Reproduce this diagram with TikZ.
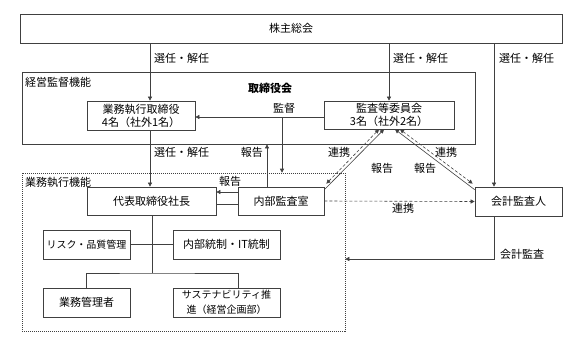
\documentclass[tikz,border=0pt]{standalone}
\usepackage{fontspec}
\setmainfont{Noto Sans CJK JP}
\usetikzlibrary{arrows.meta, shadows}
\definecolor{lngray}{RGB}{64,64,64}
\newcommand{\orgfont}{\fontsize{11}{13}\selectfont}
\newcommand{\smallorgfont}{\fontsize{10}{15}\selectfont}
\tikzset{
  orgbox/.style={draw=lngray, line width=0.7pt, fill=white, inner sep=1pt, align=center, font=\orgfont},
  framebox/.style={draw=lngray, line width=0.7pt, inner sep=0pt},
  dotframe/.style={draw=lngray, line width=0.6pt, dash pattern=on 1pt off 1pt, inner sep=0pt},
  tag/.style={font=\orgfont, inner sep=1pt},
  link/.style={draw=lngray, line width=0.6pt},
  arr/.style={link, -{Triangle[length=4pt,width=4pt]}},
  coop/.style={link, dash pattern=on 3pt off 2pt},
  shade/.style={drop shadow={shadow xshift=1pt, shadow yshift=-1pt, opacity=0.6}}
}
\begin{document}
\begin{tikzpicture}[x=1pt, y=-1pt]
  \useasboundingbox (0,0) rectangle (584,346);

  % Frames
  \node[framebox, minimum width=453pt, minimum height=72pt] (supv) at (248.5,108) {};
  \node[tag, anchor=west] (supvlbl) at (24,82) {経営監督機能};
  \node[dotframe, minimum width=323pt, minimum height=158pt] (execf) at (183.5,252) {};
  \node[tag, anchor=west] (execflbl) at (24,182) {業務執行機能};
  \node[tag, font=\orgfont\bfseries] (board) at (270,88) {取締役会};

  % Boxes
  \node[orgbox, minimum width=542pt, minimum height=29pt] (agm) at (291,28.5) {株主総会};
  \node[orgbox, minimum width=108pt, minimum height=29pt] (exec) at (141,115.5) {業務執行取締役\\4名（社外1名）};
  \node[orgbox, minimum width=130pt, minimum height=28pt] (aud) at (389,115) {監査等委員会\\3名（社外2名）};
  \node[orgbox, minimum width=129pt, minimum height=28pt] (ceo) at (151.5,201) {代表取締役社長};
  \node[orgbox, minimum width=86pt, minimum height=28pt] (ia) at (281,201) {内部監査室};
  \node[orgbox, minimum width=87pt, minimum height=29pt] (ext) at (518.5,201.5) {会計監査人};
  \node[orgbox, shade, minimum width=87pt, minimum height=29pt, font=\smallorgfont] (risk) at (86.5,244.5) {リスク・品質管理};
  \node[orgbox, shade, minimum width=107pt, minimum height=29pt] (ic) at (226.5,244.5) {内部統制・IT統制};
  \node[orgbox, minimum width=87pt, minimum height=29pt] (mgr) at (86.5,302.5) {業務管理者};
  \node[orgbox, minimum width=107pt, minimum height=29pt, font=\smallorgfont] (sus) at (226.5,302.5) {サステナビリティ推\\進（経営企画部）};

  % Appointment from the shareholders' meeting
  \coordinate (selL) at (150,0);
  \coordinate (selR) at (494,0);
  \draw[arr] (agm.south -| selL) -- (exec.north -| selL);
  \node[tag, anchor=west] (sel1) at (153,58) {選任・解任};
  \draw[arr] (agm.south -| aud.north) -- (aud.north);
  \node[tag, anchor=west] (sel2) at (392,58) {選任・解任};
  \draw[arr] (agm.south -| selR) -- (ext.north -| selR);
  \node[tag, anchor=west] (sel3) at (498,58) {選任・解任};
  \draw[arr] (exec.south -| selL) -- (ceo.north -| selL);
  \node[tag, anchor=west] (sel4) at (153,152) {選任・解任};

  % Supervision
  \draw[arr] ([yshift=-2pt]aud.west) -- ([yshift=-2pt]aud.west -| exec.east);
  \node[tag] (supvtag) at (284,108) {監督};
  \coordinate (supvdrop) at (282,117);
  \draw[arr] (supvdrop) -- (supvdrop |- execf.north);

  % Reports from internal audit
  \draw[arr] ([yshift=9pt]ia.west) -- ([yshift=9pt]ia.west -| ceo.east);
  \draw[link] ([yshift=-3pt]ia.west) -- ([yshift=-3pt]ia.west -| ceo.east);
  \node[tag] (rep1) at (230,181) {報告};
  \coordinate (repup) at (267,0);
  \draw[arr] (ia.north -| repup) -- (supv.south -| repup);
  \node[tag, anchor=east] (rep2) at (264,152) {報告};

  % Audit triangle
  \draw[arr] ([yshift=-3pt]ia.north east) -- ([xshift=-5pt]aud.south);
  \draw[coop, {Triangle[length=4pt,width=4pt]}-{Triangle[length=4pt,width=4pt]}] ([shift={(2pt,3pt)}]ia.north east) -- ([xshift=-10pt]aud.south);
  \draw[arr] ([yshift=-3pt]ext.north west) -- ([xshift=6pt]aud.south);
  \draw[coop, {Triangle[length=4pt,width=4pt]}-{Triangle[length=4pt,width=4pt]}] ([shift={(-2pt,3pt)}]ext.north west) -- ([xshift=11pt]aud.south);
  \node[tag] (coop1) at (339,152) {連携};
  \node[tag] (rep3) at (382,168) {報告};
  \node[tag] (rep4) at (425,168) {報告};
  \node[tag] (coop2) at (446,152) {連携};
  \draw[coop, -{Triangle[length=4pt,width=4pt]}] (ia.east) -- (ext.west);
  \node[tag] (coop3) at (403,208) {連携};

  % Accounting audit
  \draw[arr] (ext.south -| selR) |- ([yshift=-7pt]execf.east);
  \node[tag, anchor=west] (audit) at (499,254) {会計監査};

  % Organisation below the president
  \coordinate (jn) at (152,273);
  \draw[link] (ceo.south -| jn) -- (jn);
  \draw[link] (risk.east) -- (ic.west);
  \draw[link] (mgr.north) |- (jn) -| ([xshift=11.5pt]sus.north);
\end{tikzpicture}
\end{document}
